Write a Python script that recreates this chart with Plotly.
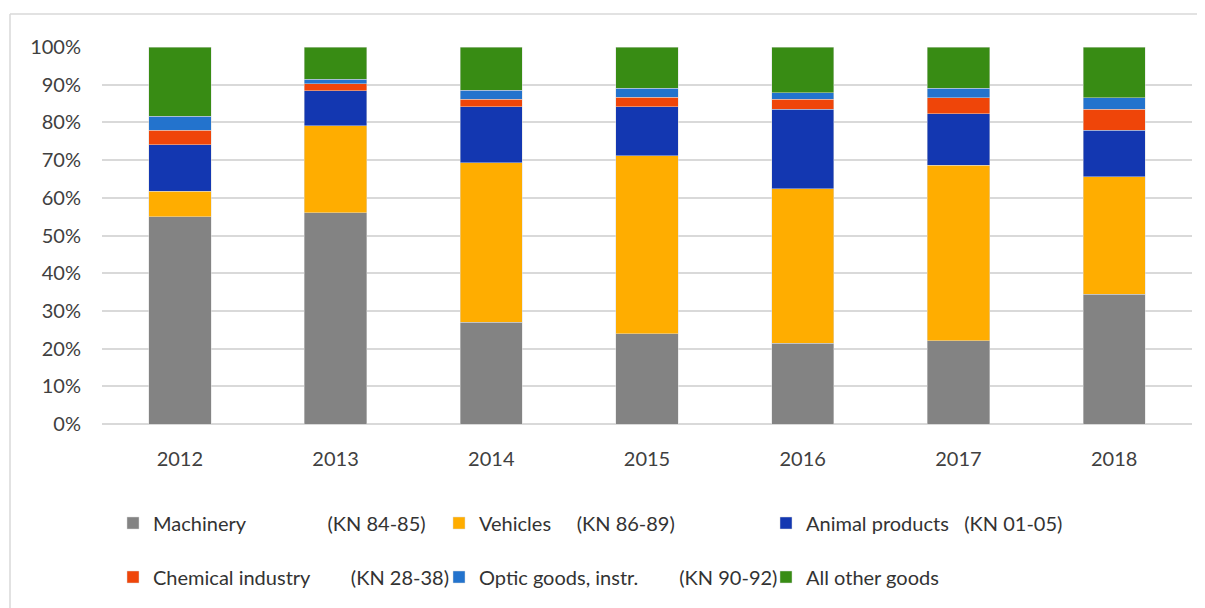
import plotly.graph_objects as go

years = ["2012", "2013", "2014", "2015", "2016", "2017", "2018"]
machinery = [55.0, 56.1, 27.0, 23.9, 21.4, 22.1, 34.4]
vehicles = [6.7, 23.0, 42.3, 47.2, 41.0, 46.5, 31.2]
animal = [12.4, 9.3, 14.8, 13.0, 21.1, 13.7, 12.3]
chemical = [3.8, 1.9, 2.0, 2.6, 2.6, 4.3, 5.6]
optic = [3.7, 1.2, 2.4, 2.4, 1.7, 2.5, 3.1]
other = [18.4, 8.5, 11.5, 10.9, 12.2, 10.9, 13.4]

NB = "\u00a0"
series = [
    ("Machinery" + NB * 16 + "(KN 84-85)", machinery, "#838383"),
    ("Vehicles" + NB * 5 + "(KN 86-89)", vehicles, "#FFAD00"),
    ("Animal products" + NB * 3 + "(KN 01-05)", animal, "#1337B1"),
    ("Chemical industry" + NB * 8 + "(KN 28-38)", chemical, "#EF4509"),
    ("Optic goods, instr." + NB * 8 + "(KN 90-92)", optic, "#2373CD"),
    ("All other goods", other, "#388C14"),
]

FONT = "Lato, 'Open Sans', sans-serif"
TXT = "#404040"

# page offset (the page body adds 8px margin)
OFF = 8
FW, FH = 1205 - OFF, 608 - OFF
# plot area in page pixels: x 102..1192, y 47..424
L, R, T, B = 102, 1192, 47, 424
W, H = R - L, B - T


def px(x):
    return (x - L) / W


def py(y):
    return (B - y) / H


leg_pos = [(113, 523), (439, 523), (766, 523), (113, 577), (439, 577), (766, 577)]

fig = go.Figure()
for i, (name, vals, col) in enumerate(series):
    lg = "legend" if i == 0 else f"legend{i+1}"
    fig.add_trace(go.Bar(
        x=years, y=vals, name=name, legend=lg,
        marker=dict(color=col, line=dict(color="rgba(220,220,220,0.6)", width=0.8)),
    ))

layout_legends = {}
for i, (lx, ly) in enumerate(leg_pos):
    key = "legend" if i == 0 else f"legend{i+1}"
    layout_legends[key] = dict(
        x=px(lx), y=py(ly), xanchor="left", yanchor="middle",
        xref="paper", yref="paper",
        bgcolor="rgba(0,0,0,0)", borderwidth=0,
        font=dict(family=FONT, size=20, color="#333333"),
        orientation="h",
    )

fig.update_layout(
    barmode="stack",
    bargap=0.6,
    width=FW, height=FH,
    margin=dict(l=L - OFF, r=1205 - R, t=T - OFF, b=608 - B),
    paper_bgcolor="white", plot_bgcolor="white",
    showlegend=True,
    **layout_legends,
    xaxis=dict(
        tickfont=dict(family=FONT, size=20, color=TXT),
        showgrid=False, showline=False, ticks="",
        ticklabelstandoff=21,
    ),
    yaxis=dict(
        range=[0, 100], dtick=10, ticksuffix="%",
        tickfont=dict(family=FONT, size=20, color=TXT),
        gridcolor="#D9D9D9", gridwidth=1.5,
        zeroline=True, zerolinecolor="#D9D9D9", zerolinewidth=1.5,
        showline=False, ticks="", ticklabelstandoff=20,
    ),
    shapes=[
        dict(type="line", xref="paper", yref="paper",
             x0=px(10), x1=px(1215), y0=py(14), y1=py(14),
             line=dict(color="#D9D9D9", width=1.5)),
        dict(type="line", xref="paper", yref="paper",
             x0=px(10), x1=px(10), y0=py(14), y1=py(620),
             line=dict(color="#D9D9D9", width=1.5)),
    ],
)

fig.write_html("out.html")
